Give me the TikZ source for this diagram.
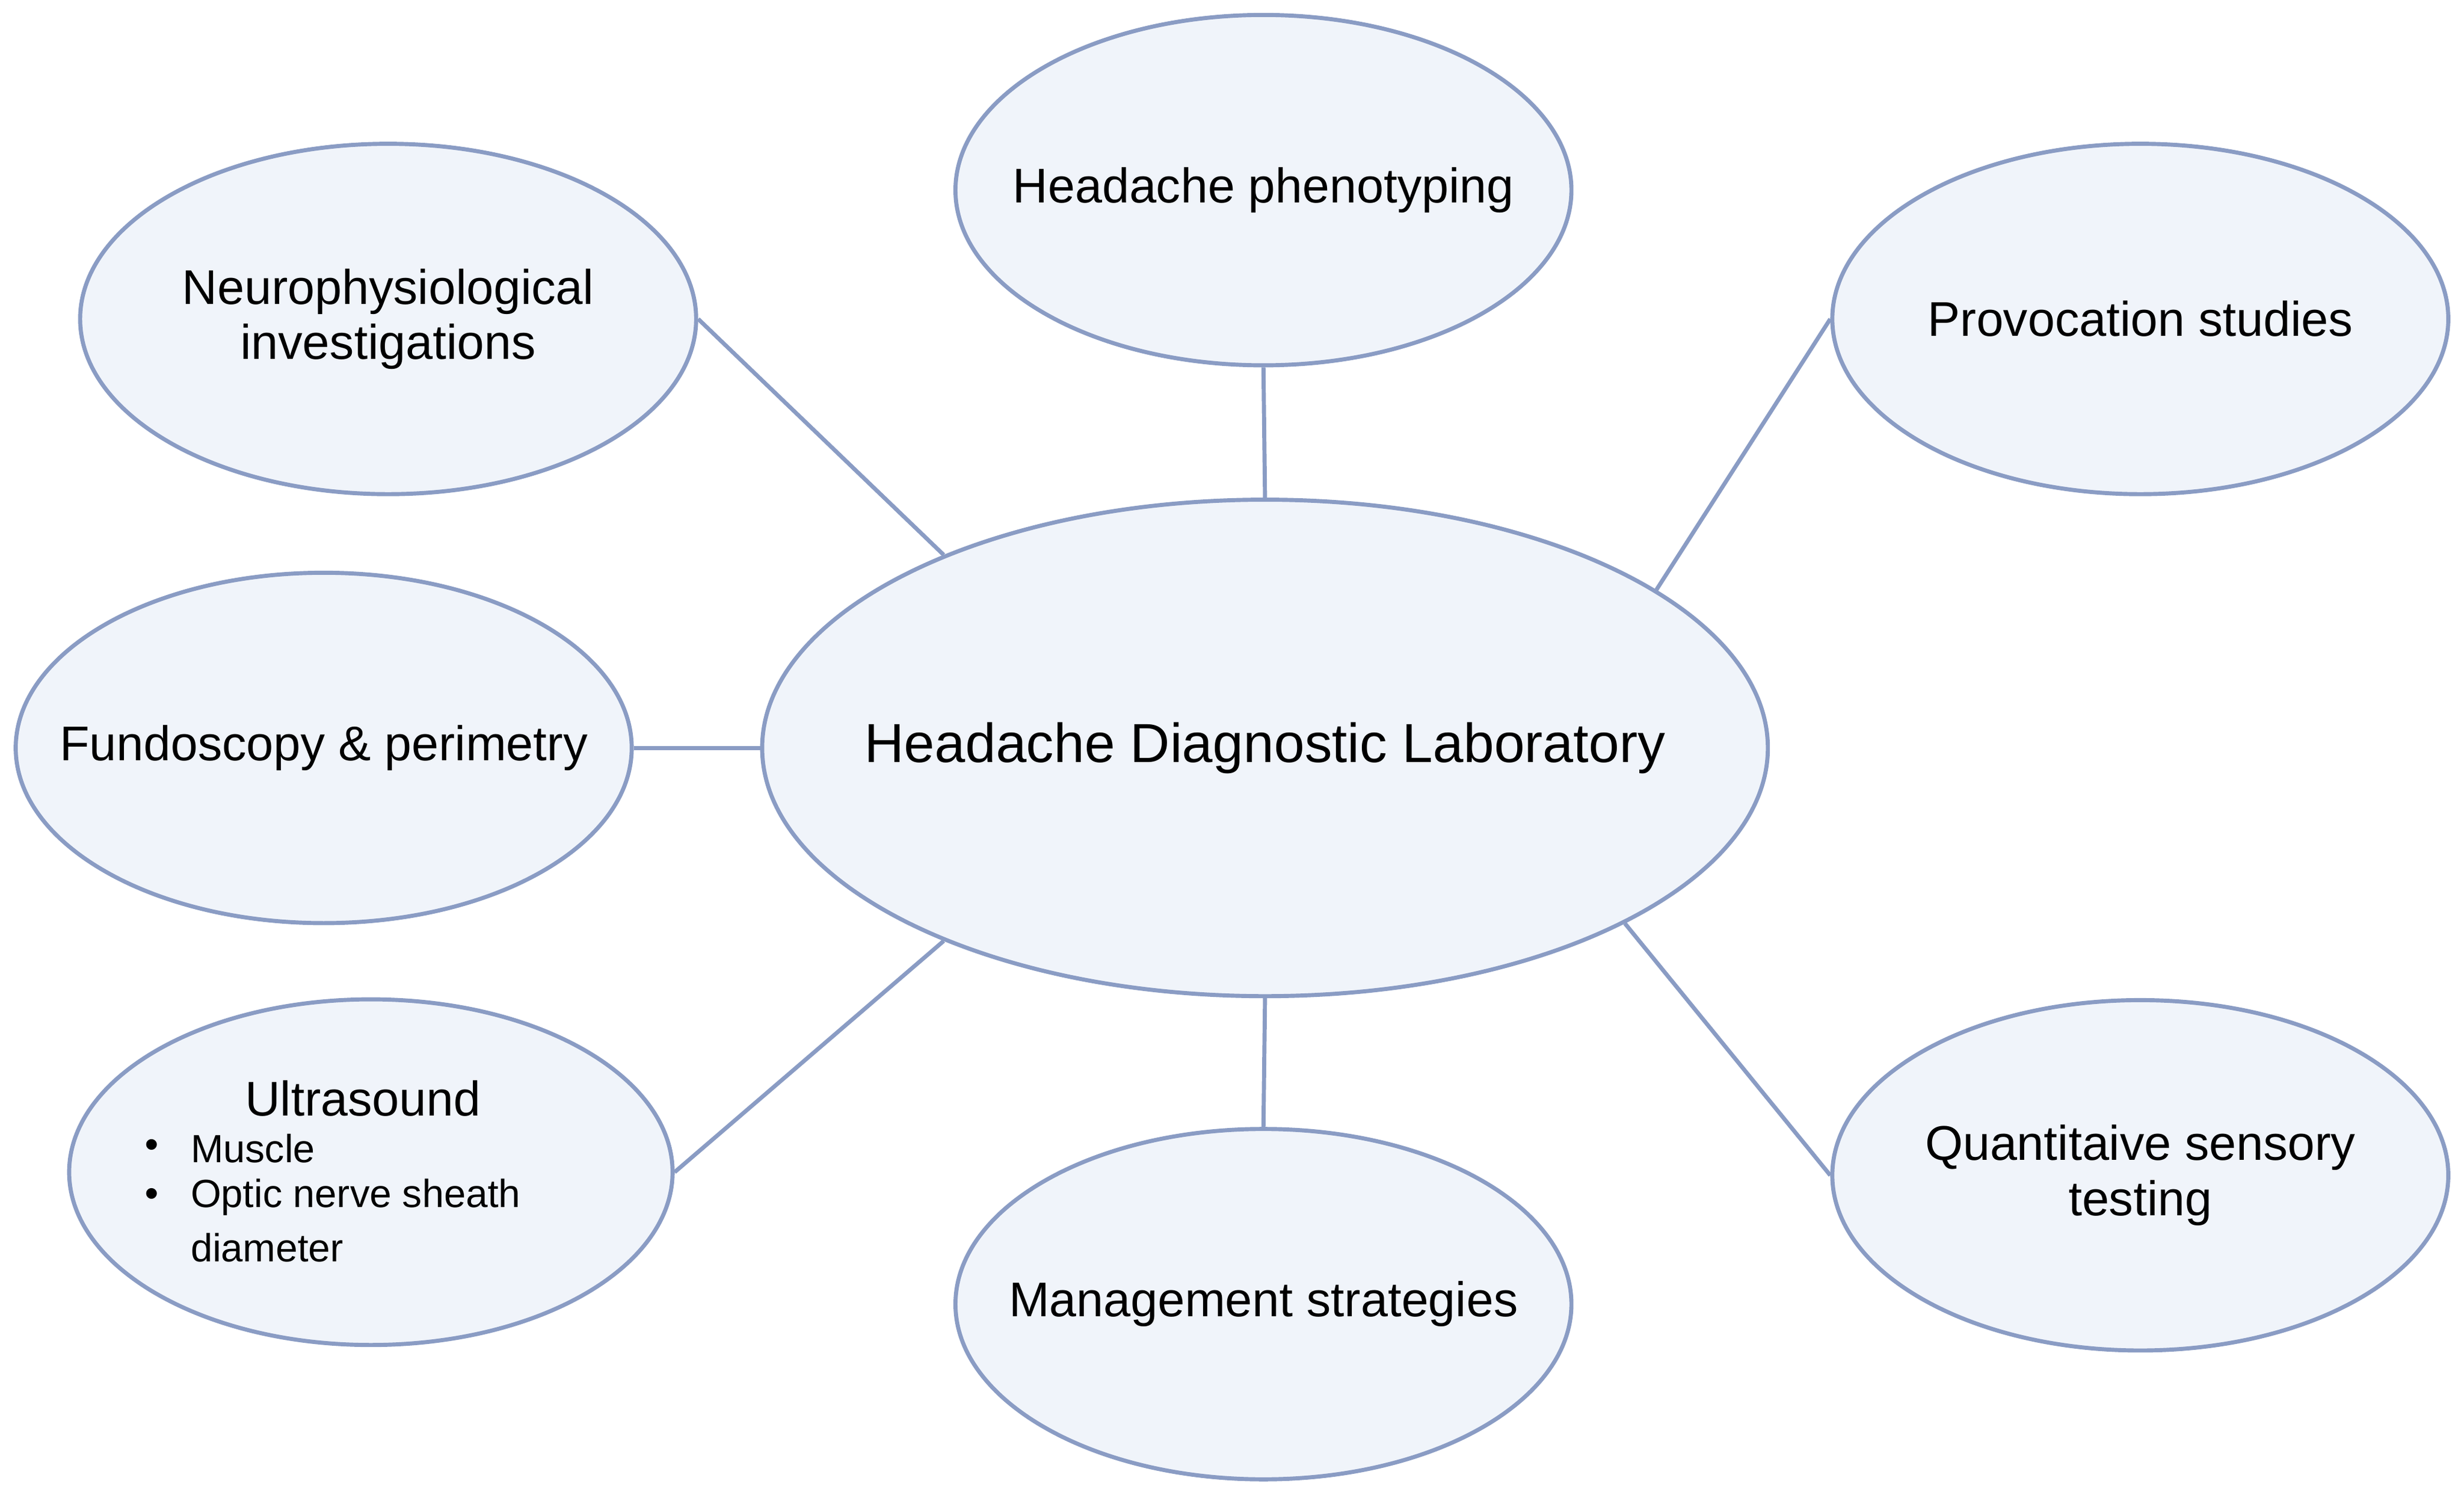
\documentclass[tikz,border=0pt]{standalone}
\usepackage{fontspec}
\setmainfont{Liberation Sans}
\usetikzlibrary{shapes.geometric}
\definecolor{efill}{HTML}{F0F4FA}
\definecolor{edraw}{HTML}{8A9CC4}
\tikzset{
 bub/.style={ellipse,draw=edraw,fill=efill,line width=1.3pt,minimum width=196pt,minimum height=111.5pt,inner sep=0pt},
 txt/.style={align=center,font=\fontsize{15.5}{17.5}\selectfont},
 sm/.style={anchor=west,inner sep=0pt,font=\fontsize{12.5}{15}\selectfont},
 conn/.style={draw=edraw,line width=1.3pt},
}
\begin{document}
\begin{tikzpicture}[x=0.5pt,y=-0.5pt]
\useasboundingbox (0,0) rectangle (1568,955);
\node[bub,minimum width=320pt,minimum height=158pt] (c) at (805,476) {};
\node[bub] (pheno) at (804,121) {};
\node[bub] (neuro) at (247,203) {};
\node[bub] (prov) at (1362,203) {};
\node[bub] (fund) at (206,476) {};
\node[bub,minimum width=192pt,minimum height=110pt] (us) at (236,746) {};
\node[bub] (mgmt) at (804,830) {};
\node[bub] (qst) at (1362,748) {};
\node[txt,font=\fontsize{17.5}{20}\selectfont] (ct) at (c) {Headache Diagnostic Laboratory};
\node[txt] (phenot) at (pheno) {Headache phenotyping};
\node[txt] (neurot) at (neuro) {Neurophysiological\\investigations};
\node[txt] (provt) at (prov) {Provocation studies};
\node[txt] (fundt) at (fund) {Fundoscopy \& perimetry};
\node[txt] (mgmtt) at (mgmt) {Management strategies};
\node[txt] (qstt) at (qst) {Quantitaive sensory\\testing};
\node[txt] (ust) at (231,699) {Ultrasound};
\node[sm] (d1) at (92,731) {\textbullet};
\node[sm] (d2) at (92,762) {\textbullet};
\node[sm] (b1) at (121,731) {Muscle};
\node[sm] (b2) at (121,762) {Optic nerve sheath};
\node[sm] (b3) at (121,794) {diameter};
\draw[conn] (pheno.south) -- (c.north);
\draw[conn] (c.south) -- (mgmt.north);
\draw[conn] (fund.east) -- (c.west);
\draw[conn] (neuro.east) -- (c.149.8);
\draw[conn] (prov.west) -- (c.22.4);
\draw[conn] (qst.west) -- (c.-26);
\draw[conn] (us.east) -- (c.211.7);
\end{tikzpicture}
\end{document}
